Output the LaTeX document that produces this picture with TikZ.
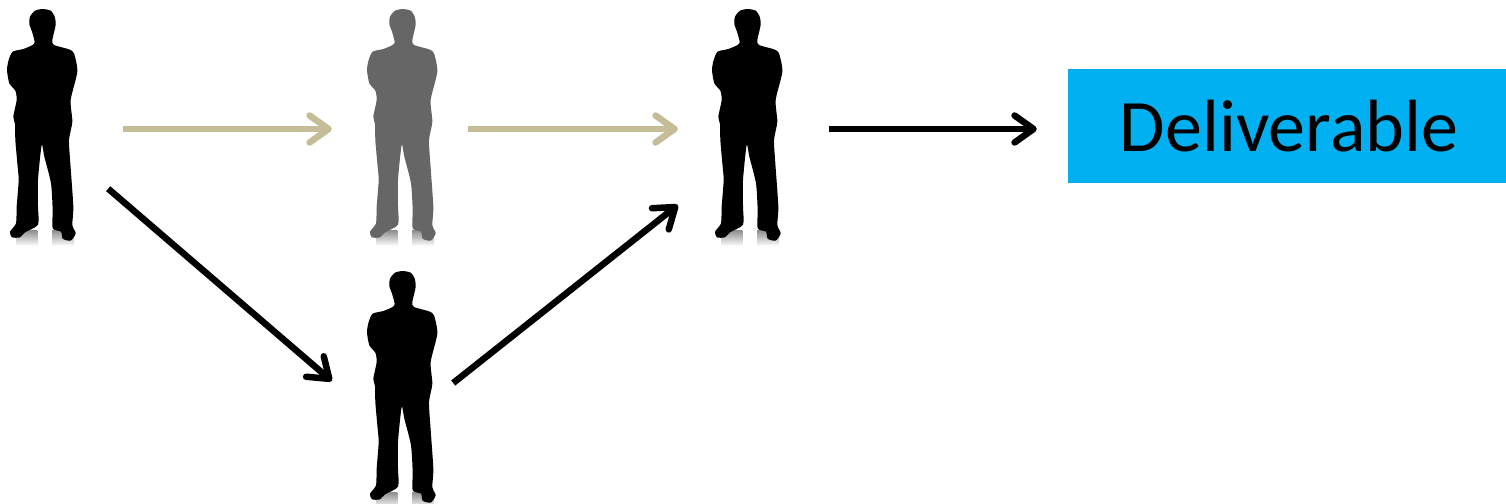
\documentclass[tikz,border=0pt]{standalone}
\usepackage{fontspec}
\setmainfont{Carlito}
\usetikzlibrary{arrows.meta}
\definecolor{boxblue}{HTML}{00B0F0}
\definecolor{arrowtan}{HTML}{C4BD97}
\definecolor{personfade}{HTML}{666666}
\tikzset{
  silhouette/.pic={
    \begin{scope}[scale=1/3,shift={(-126,-378)}]
      \shade[top color=black!45,bottom color=white] (48,690) rectangle (112,738);
      \shade[top color=black!45,bottom color=white] (156,690) rectangle (222,738);
      \fill[pic actions] plot[smooth cycle,tension=0.4] coordinates {(128,27) (105,32) (90,50) (88,72) (96,95) (104,125)
        (98,135) (70,147) (38,155) (26,180) (21,210) (28,250) (46,272) (50,300) (40,350) (45,372) (46,420) (52,490)
        (56,540) (50,620) (48,670) (30,695) (36,712) (60,712) (75,697) (114,674) (114,620) (114,540) (125,435)
        (133,470) (153,550) (158,630) (158,685) (183,695) (188,716) (212,722) (227,700) (217,675) (220,620) (211,490)
        (207,420) (217,365) (212,300) (232,215) (222,160) (207,148) (162,135) (157,120) (167,75) (164,50) (152,32)};
    \end{scope}
  },
  person/.style={minimum width=70pt,minimum height=233pt,inner sep=0pt},
  flow/.style={line width=6.5pt,-{Straight Barb[round,length=19pt,width=27pt]}},
  tanflow/.style={flow,arrowtan},
  deliverbox/.style={fill=boxblue,minimum width=438pt,minimum height=114pt,inner sep=0pt,font=\fontsize{74}{80}\selectfont},
}
\begin{document}
\begin{tikzpicture}[x=1pt,y=-1pt]
  \useasboundingbox (0,0) rectangle (1506,503);
  \node[person] (first) at (42,126) {};
  \node[person] (second) at (402,126) {};
  \node[person] (third) at (747,126) {};
  \node[person] (lower) at (402,388) {};
  \pic[black] at (first) {silhouette};
  \pic[personfade] at (second) {silhouette};
  \pic[black] at (third) {silhouette};
  \pic[black] at (lower) {silhouette};
  \node[deliverbox] (deliverable) at (1287,126) {\hspace{4pt}Deliverable};
  \draw[tanflow] ([shift={(46,3)}]first.east)--([shift={(-35,3)}]second.west);
  \draw[tanflow] ([shift={(31,3)}]second.east)--([shift={(-34,3)}]third.west);
  \draw[flow] ([shift={(47,3)}]third.east)--([shift={(-31,3)}]deliverable.west);
  \draw[flow] ([shift={(31,-54)}]first.south east)--([shift={(-35,-7)}]lower.west);
  \draw[flow] ([shift={(16,-5)}]lower.east)--([shift={(-34,79)}]third.west);
\end{tikzpicture}
\end{document}
